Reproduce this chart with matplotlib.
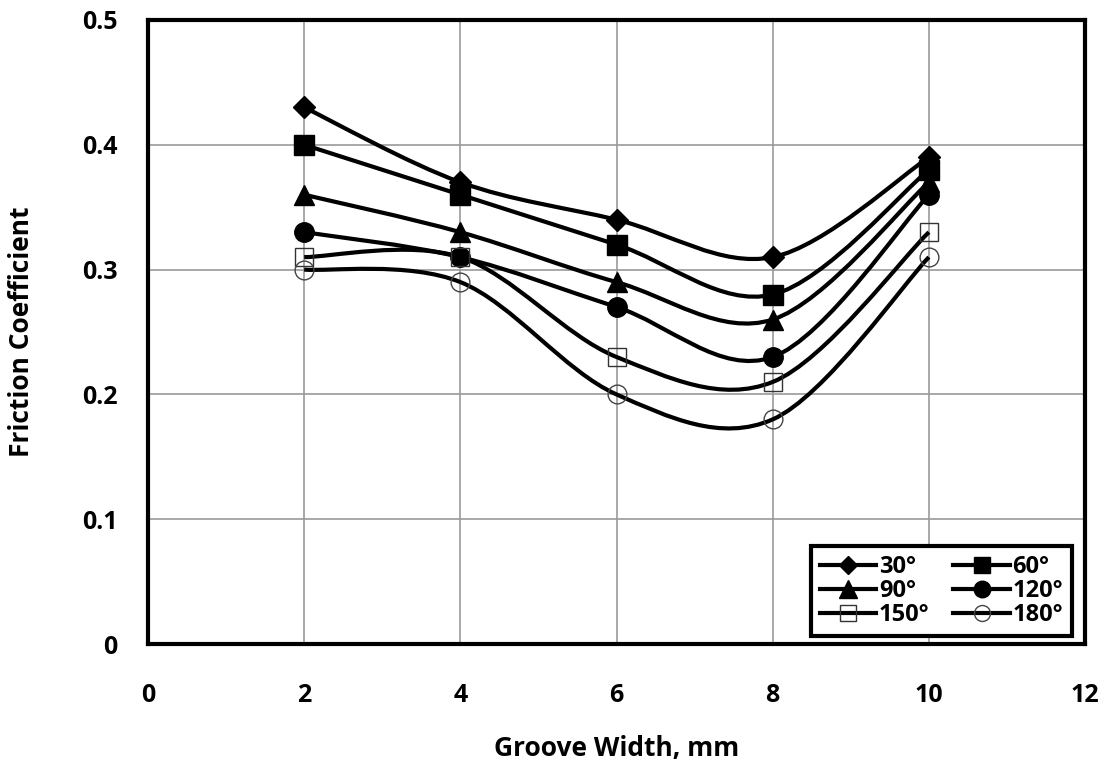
import matplotlib
matplotlib.use("Agg")
import matplotlib.pyplot as plt
from matplotlib.path import Path
from matplotlib.patches import PathPatch
from matplotlib.lines import Line2D
import numpy as np

plt.rcParams['font.family'] = ['Open Sans', 'DejaVu Sans']
plt.rcParams['font.weight'] = 'bold'

groove_width = [2, 4, 6, 8, 10]
angles = ["30°", "60°", "90°", "120°", "150°", "180°"]
fc_30 = [0.43, 0.37, 0.34, 0.31, 0.39]
fc_60 = [0.40, 0.36, 0.32, 0.28, 0.38]
fc_90 = [0.36, 0.33, 0.29, 0.26, 0.37]
fc_120 = [0.33, 0.31, 0.27, 0.23, 0.36]
fc_150 = [0.31, 0.31, 0.23, 0.21, 0.33]
fc_180 = [0.30, 0.29, 0.20, 0.18, 0.31]
series = [fc_30, fc_60, fc_90, fc_120, fc_150, fc_180]

styles = [
    dict(marker='D', ms=11, mfc='black', mec='black', mew=1),
    dict(marker='s', ms=14, mfc='black', mec='black', mew=1),
    dict(marker='^', ms=15, mfc='black', mec='black', mew=1),
    dict(marker='o', ms=14, mfc='black', mec='black', mew=1),
    dict(marker='s', ms=13.5, mfc='none', mec='#333333', mew=1.0),
    dict(marker='o', ms=13.5, mfc='none', mec='#444444', mew=1.0),
]

def smooth_path(x, y):
    pts = np.column_stack([x, y]).astype(float)
    n = len(pts)
    verts = [pts[0]]
    codes = [Path.MOVETO]
    for i in range(n - 1):
        p0 = pts[i - 1] if i > 0 else pts[i]
        p1 = pts[i]
        p2 = pts[i + 1]
        p3 = pts[i + 2] if i + 2 < n else pts[i + 1]
        c1 = p1 + (p2 - p0) / 6.0
        c2 = p2 - (p3 - p1) / 6.0
        verts += [c1, c2, p2]
        codes += [Path.CURVE4] * 3
    return Path(verts, codes)

fig = plt.figure(figsize=(11.08, 7.69), dpi=100)
ax = fig.add_axes([0.1336, 0.1625, 0.8457, 0.8115])

handles = []
for vals, st, lab in zip(series, styles, angles):
    patch = PathPatch(smooth_path(groove_width, vals), facecolor='none',
                      edgecolor='black', lw=3.0, zorder=3)
    ax.add_patch(patch)
    ax.plot(groove_width, vals, ls='none', zorder=4, **st)
    handles.append(Line2D([], [], color='black', lw=3.0, **st))

ax.set_xlim(0, 12)
ax.set_ylim(0, 0.5)
ax.set_xticks(np.arange(0, 13, 2))
ax.set_yticks(np.arange(0, 0.51, 0.1))
ax.set_yticklabels(['0', '0.1', '0.2', '0.3', '0.4', '0.5'])
ax.grid(True, color='#9a9a9a', lw=1.2)
ax.set_axisbelow(True)
ax.tick_params(length=0, labelsize=18)
ax.tick_params(axis='x', pad=28)
ax.tick_params(axis='y', pad=22)
for sp in ax.spines.values():
    sp.set_linewidth(3)
    sp.set_color('black')

ax.set_xlabel('Groove Width, mm', fontsize=19, fontweight='bold')
ax.set_ylabel('Friction Coefficient', fontsize=19, fontweight='bold')
ax.xaxis.set_label_coords(0.5, -0.1667)
ax.yaxis.set_label_coords(-0.1345, 0.5)
ax.xaxis.label.set_va('center')
ax.yaxis.label.set_va('center')

# row-wise order like the reference: 30,60 / 90,120 / 150,180
order = [0, 2, 4, 1, 3, 5]
leg = ax.legend([handles[i] for i in order], [angles[i] for i in order],
                loc='lower right', bbox_to_anchor=(0.986, 0.0128),
                ncol=2, fontsize=17,
                handlelength=2.4, handletextpad=0.1, columnspacing=1.0,
                labelspacing=0.0, borderpad=0.38, borderaxespad=0.0,
                frameon=True, fancybox=False, markerscale=0.85)
leg.get_frame().set_edgecolor('black')
leg.get_frame().set_linewidth(3)
leg.get_frame().set_facecolor('white')
leg.get_frame().set_alpha(1)

fig.savefig('out.png', dpi=100)
